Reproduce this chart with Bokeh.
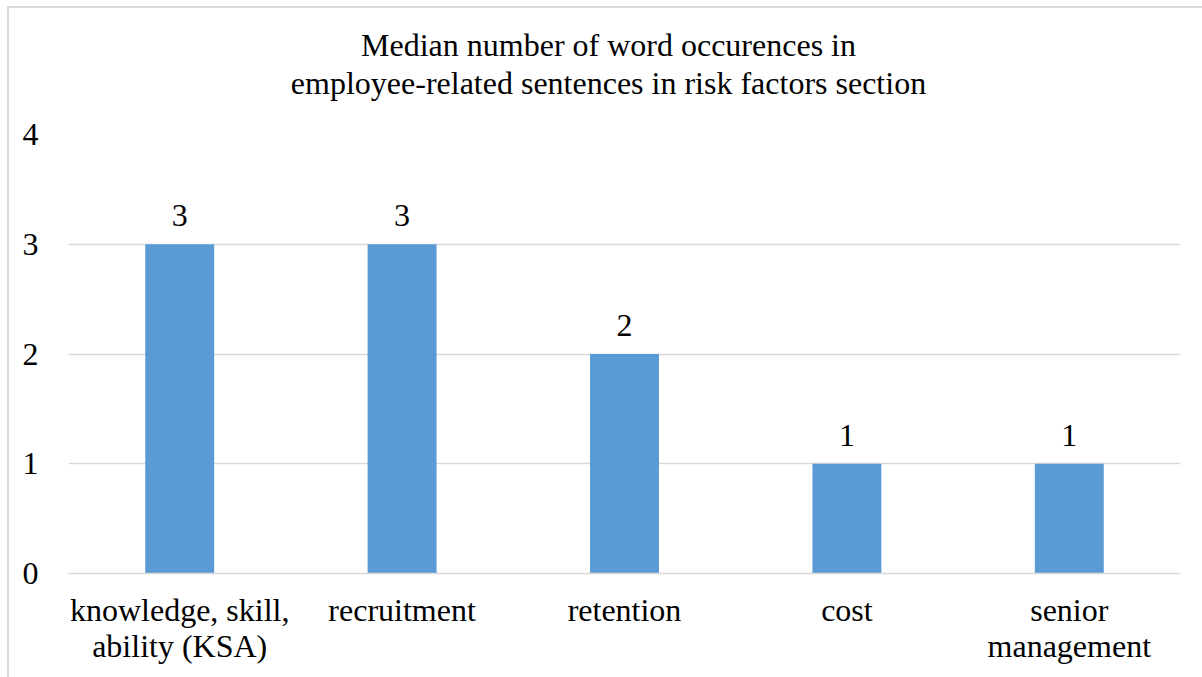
from bokeh.plotting import figure
from bokeh.models import ColumnDataSource, Title
from bokeh.core.properties import value
from bokeh.embed import file_html
from bokeh.resources import INLINE

categories = ["knowledge, skill,\nability (KSA)", "recruitment", "retention", "cost", "senior\nmanagement"]
medians = [3, 3, 2, 1, 1]
y_ticks = [0, 1, 2, 3, 4]
title_lines = ["Median number of word occurences in", "employee-related sentences in risk factors section"]

FONT = "Liberation Serif"
FONT_SIZE = "32px"
BAR = "#5b9bd5"
GRID = "#d9d9d9"

source = ColumnDataSource(dict(cat=categories, val=medians, lbl=[str(v) for v in medians]))

p = figure(
    x_range=categories, y_range=(0, 4),
    width=1200, height=680,
    output_backend="svg", toolbar_location=None,
    min_border_left=59, min_border_right=29,
    min_border_top=126, min_border_bottom=115,
    title=None,
)
p.margin = (6, 0, 0, 7)
p.styles = {"border-left": "2px solid #d9d9d9", "border-top": "2px solid #d9d9d9"}
p.outline_line_color = None

# blank strip between the title block and the plot frame
p.add_layout(Title(text=" ", text_font=FONT, text_font_size="29px", standoff=0), "above")
# title lines stack outwards from the frame, so the last line goes in first;
# the extra right padding nudges the centred text a little to the left
for line in reversed(title_lines):
    p.add_layout(Title(text=line, align="center", padding=(0, 32, 0, 0), text_font=FONT,
                       text_font_size=FONT_SIZE, text_font_style="normal",
                       text_color="#000000", standoff=0), "above")

p.vbar(x="cat", top="val", width=0.31, source=source, color=BAR, line_color=None)
p.text(x="cat", y="val", text="lbl", source=source, text_align="center",
       text_baseline="bottom", y_offset=-18, text_font=value(FONT),
       text_font_size=FONT_SIZE, text_color="#000000")

p.xgrid.grid_line_color = None
p.ygrid.grid_line_color = GRID
p.ygrid.grid_line_width = 1.5
p.yaxis.ticker = y_ticks
p.yaxis.axis_line_color = None
p.yaxis.major_tick_line_color = None
p.yaxis.minor_tick_line_color = None
p.yaxis.major_label_text_font = FONT
p.yaxis.major_label_text_font_size = FONT_SIZE
p.yaxis.major_label_text_color = "#000000"
p.yaxis.major_label_standoff = 24

p.xaxis.axis_line_color = GRID
p.xaxis.axis_line_width = 1.5
p.xaxis.major_tick_line_color = None
p.xaxis.minor_tick_line_color = None
p.xaxis.major_label_text_font = FONT
p.xaxis.major_label_text_font_size = FONT_SIZE
p.xaxis.major_label_text_color = "#000000"
p.xaxis.major_label_standoff = 12
p.xaxis.major_label_text_line_height = 1.0

open("out.html", "w").write(file_html(p, INLINE))
